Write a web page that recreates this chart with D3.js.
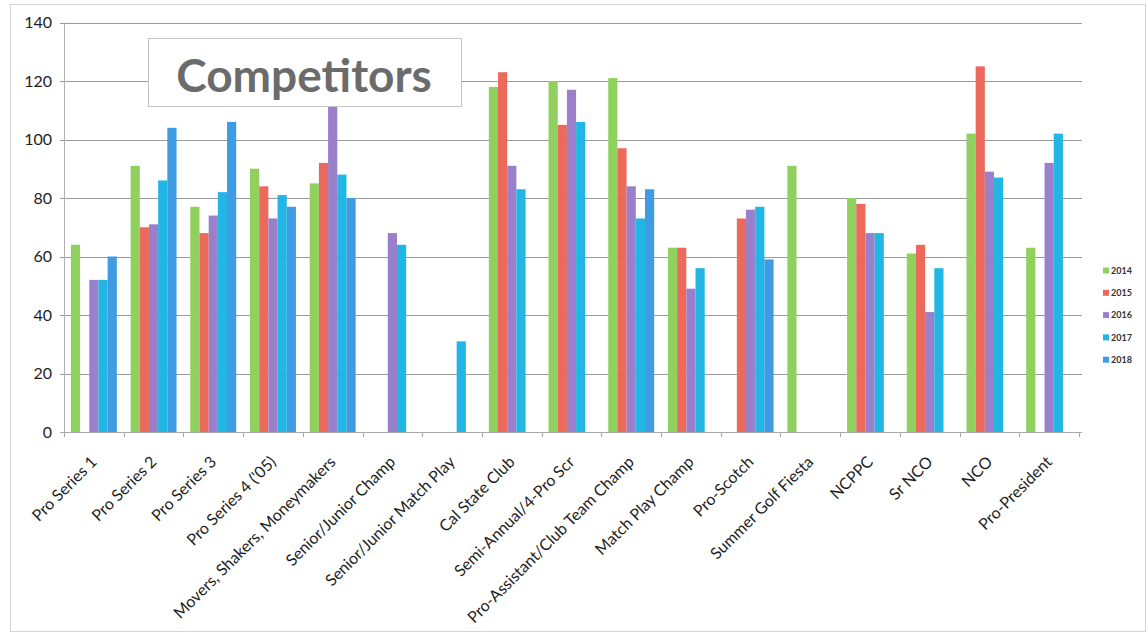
<!DOCTYPE html>
<html>
<head>
<meta charset="utf-8">
<script src="https://cdn.jsdelivr.net/npm/d3@7"></script>
<style>
  body { margin: 0; background: #ffffff; }
  svg { display: block; }
</style>
</head>
<body>
<div id="viscontainer"></div>
<script>

const categories = [
  "Pro Series 1", "Pro Series 2", "Pro Series 3", "Pro Series 4 ('05)",
  "Movers, Shakers, Moneymakers", "Senior/Junior Champ", "Senior/Junior Match Play",
  "Cal State Club", "Semi-Annual/4-Pro Scr", "Pro-Assistant/Club Team Champ",
  "Match Play Champ", "Pro-Scotch", "Summer Golf Fiesta", "NCPPC", "Sr NCO", "NCO",
  "Pro-President"
];

const years = ["2014", "2015", "2016", "2017", "2018"];

// null = no event that year
const competitors2014 = [64, 91, 77, 90, 85, null, null, 118, 120, 121, 63, null, 91, 80, 61, 102, 63];
const competitors2015 = [null, 70, 68, 84, 92, null, null, 123, 105, 97, 63, 73, null, 78, 64, 125, null];
const competitors2016 = [52, 71, 74, 73, 115, 68, null, 91, 117, 84, 49, 76, null, 68, 41, 89, 92];
const competitors2017 = [52, 86, 82, 81, 88, 64, 31, 83, 106, 73, 56, 77, null, 68, 56, 87, 102];
const competitors2018 = [60, 104, 106, 77, 80, null, null, null, null, 83, null, 59, null, null, null, null, null];

const yTicks = [0, 20, 40, 60, 80, 100, 120, 140];

const colors = ["#8fd05e", "#ec6a5c", "#9a7fca", "#22b6e4", "#3f9be2"];

const width = 1148;
const height = 635;

const plot = { left: 64, right: 1079, top: 22.5, bottom: 432 };

let svg;

function buildRows() {
  const series = [competitors2014, competitors2015, competitors2016, competitors2017, competitors2018];
  return categories.map((c, i) => ({
    category: c,
    values: years.map((y, j) => ({ year: y, value: series[j][i] }))
  }));
}

function drawChart() {

  const rows = buildRows();

  svg = d3.select("#viscontainer")
    .append("svg")
    .attr("width", width)
    .attr("height", height)
    .style("font-family", "Lato, sans-serif");

  // outer chart border
  svg.append("rect")
    .attr("x", 10.5)
    .attr("y", 4.5)
    .attr("width", 1135)
    .attr("height", 627)
    .attr("fill", "#ffffff")
    .attr("stroke", "#d4d4d4");

  const x0 = d3.scaleBand()
    .domain(categories)
    .range([plot.left, plot.right]);

  const x1 = d3.scaleBand()
    .domain(years)
    .range([0, x0.bandwidth()])
    .paddingInner(0)
    .paddingOuter(0.75);

  const y = d3.scaleLinear()
    .domain([0, 140])
    .range([plot.bottom, plot.top]);

  // gridlines
  svg.append("g")
    .selectAll("line")
    .data(yTicks)
    .join("line")
    .attr("x1", plot.left - 4)
    .attr("x2", plot.right + 3)
    .attr("y1", d => Math.round(y(d)) + 0.5)
    .attr("y2", d => Math.round(y(d)) + 0.5)
    .attr("stroke", d => d === 0 ? "#a8a8a8" : "#9a9a9a")
    .attr("stroke-width", 1);

  // left axis line
  svg.append("line")
    .attr("x1", plot.left + 0.5)
    .attr("x2", plot.left + 0.5)
    .attr("y1", plot.top)
    .attr("y2", plot.bottom)
    .attr("stroke", "#b0b0b0");

  // y labels
  svg.append("g")
    .selectAll("text")
    .data(yTicks)
    .join("text")
    .attr("x", 52)
    .attr("y", d => y(d))
    .attr("dy", "0.36em")
    .attr("text-anchor", "end")
    .attr("font-size", 16)
    .attr("fill", "#1e1e1e")
    .text(d => d);

  // bars
  const groups = svg.append("g")
    .selectAll("g")
    .data(rows)
    .join("g")
    .attr("transform", d => `translate(${x0(d.category)},0)`);

  groups.selectAll("rect")
    .data(d => d.values.filter(v => v.value !== null))
    .join("rect")
    .attr("x", d => x1(d.year))
    .attr("y", d => y(d.value))
    .attr("width", x1.bandwidth())
    .attr("height", d => y(0) - y(d.value))
    .attr("fill", d => colors[years.indexOf(d.year)]);

  // category tick marks
  const tickPos = categories.map(c => x0(c)).concat([plot.right]);
  svg.append("g")
    .selectAll("line")
    .data(tickPos)
    .join("line")
    .attr("x1", d => Math.round(d) + 0.5)
    .attr("x2", d => Math.round(d) + 0.5)
    .attr("y1", plot.bottom)
    .attr("y2", plot.bottom + 5)
    .attr("stroke", "#a8a8a8");

  // x labels
  svg.append("g")
    .selectAll("text")
    .data(categories)
    .join("text")
    .attr("transform", d => `translate(${x0(d) + x0.bandwidth() / 2 + 4},${plot.bottom + 31}) rotate(-45)`)
    .attr("text-anchor", "end")
    .attr("font-size", 16)
    .attr("fill", "#1e1e1e")
    .text(d => d);

  // title box
  svg.append("rect")
    .attr("x", 148.5)
    .attr("y", 38.5)
    .attr("width", 313)
    .attr("height", 68)
    .attr("fill", "#ffffff")
    .attr("stroke", "#c4c4c4");

  svg.append("text")
    .attr("x", 304)
    .attr("y", 92)
    .attr("text-anchor", "middle")
    .attr("font-size", 46)
    .attr("font-weight", 700)
    .attr("fill", "#6b6b6b")
    .text("Competitors");

  // legend
  const legend = svg.append("g")
    .selectAll("g")
    .data(years)
    .join("g")
    .attr("transform", (d, i) => `translate(1103,${270.5 + i * 22.3})`);

  legend.append("rect")
    .attr("x", 0)
    .attr("y", -3)
    .attr("width", 6)
    .attr("height", 6)
    .attr("fill", (d, i) => colors[i]);

  legend.append("text")
    .attr("x", 8)
    .attr("dy", "0.36em")
    .attr("font-size", 9)
    .attr("font-weight", 700)
    .attr("fill", "#333")
    .text(d => d);
}

drawChart();

</script>
</body>
</html>
